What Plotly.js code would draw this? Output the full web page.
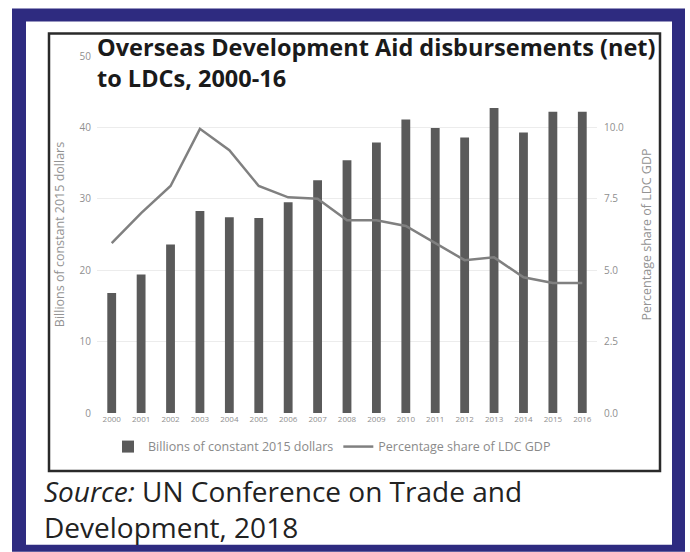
<!DOCTYPE html>
<html>
<head>
<meta charset="utf-8">
<script src="https://cdn.plot.ly/plotly-3.0.1.min.js"></script>
<style>html,body{margin:0;padding:0;background:#fff;}#chart{width:690px;height:552px;}</style>
</head>
<body>
<div id="chart"></div>
<script>
const years = ['2000','2001','2002','2003','2004','2005','2006','2007','2008','2009','2010','2011','2012','2013','2014','2015','2016'];
const oda_billions = [16.8, 19.4, 23.6, 28.3, 27.4, 27.3, 29.5, 32.6, 35.4, 37.9, 41.1, 39.9, 38.6, 42.7, 39.3, 42.2, 42.2];
const share_gdp = [5.95, 7.0, 7.95, 9.95, 9.2, 7.95, 7.55, 7.5, 6.75, 6.75, 6.55, 5.95, 5.35, 5.45, 4.75, 4.55, 4.55];
const leftTicks = [0, 10, 20, 30, 40, 50];
const rightTicks = [0, 2.5, 5, 7.5, 10];

const W = 690, H = 552;
const L = 97, R = 597, T = 55.5, B = 413;
const px = x => (x - L) / (R - L);
const py = y => (B - y) / (B - T);

const tickFont = {family: 'Open Sans, sans-serif', size: 10, color: '#8f8f8f'};
const axTitleFont = {family: 'Open Sans, sans-serif', size: 12.5, color: '#939393'};

const traces = [
  {type: 'bar', x: years, y: oda_billions, name: 'Billions of constant 2015 dollars',
   marker: {color: '#5a5a5a'}, yaxis: 'y'},
  {type: 'scatter', mode: 'lines', x: years, y: share_gdp, name: 'Percentage share of LDC GDP',
   line: {color: '#808080', width: 2.5}, yaxis: 'y2'}
];

const layout = {
  width: W, height: H,
  margin: {l: L, r: W - R, t: T, b: H - B, pad: 0},
  paper_bgcolor: '#ffffff', plot_bgcolor: 'rgba(0,0,0,0)',
  bargap: 0.7,
  showlegend: true,
  legend: {orientation: 'h', x: 0.47, xanchor: 'center', y: py(447), yanchor: 'middle',
           font: {family: 'Open Sans, sans-serif', size: 12.5, color: '#8a8a8a'}, bgcolor: 'rgba(0,0,0,0)',
           traceorder: 'normal', itemwidth: 30},
  title: {text: '<b>Overseas Development Aid disbursements (net)<br>to LDCs, 2000-16</b>',
          xref: 'container', yref: 'container', x: 97 / W, xanchor: 'left', y: 1 - 56 / H, yanchor: 'top',
          font: {family: 'Open Sans, sans-serif', size: 23.5, color: '#1a1a1a'}},
  xaxis: {type: 'category', showgrid: false, zeroline: false, showline: false, ticks: '',
          tickfont: {family: 'Open Sans, sans-serif', size: 8, color: '#8f8f8f'}, range: [-0.5, 16.5]},
  yaxis: {range: [0, 50], tickvals: leftTicks, showgrid: true, gridcolor: '#ececec', zeroline: false,
          showline: false, ticks: '', tickfont: tickFont, ticklabelstandoff: 5,
          title: {text: 'Billions of constant 2015 dollars', standoff: 12, font: axTitleFont}},
  yaxis2: {range: [0, 12.5], tickvals: rightTicks, tickformat: '.1f', overlaying: 'y', side: 'right',
           showgrid: false, zeroline: false, showline: false, ticks: '', tickfont: tickFont, ticklabelstandoff: 6,
           title: {text: 'Percentage share of LDC GDP', standoff: 19, font: axTitleFont}},
  shapes: [
    {type: 'rect', xref: 'paper', yref: 'paper', x0: px(12), x1: px(685), y0: py(552), y1: py(8),
     fillcolor: '#2e2b80', line: {width: 0}, layer: 'below'},
    {type: 'rect', xref: 'paper', yref: 'paper', x0: px(26), x1: px(672), y0: py(545), y1: py(21),
     fillcolor: '#ffffff', line: {width: 0}, layer: 'below'},
    {type: 'rect', xref: 'paper', yref: 'paper', x0: px(49), x1: px(660), y0: py(471), y1: py(33),
     fillcolor: 'rgba(0,0,0,0)', line: {width: 2.5, color: '#2a2a2a'}, layer: 'below'}
  ],
  annotations: [
    {xref: 'paper', yref: 'paper', x: px(42), y: py(491), xanchor: 'left', yanchor: 'middle', showarrow: false,
     text: '<i>Source:</i> UN Conference on Trade and',
     font: {family: 'Open Sans, sans-serif', size: 28, color: '#222'}},
    {xref: 'paper', yref: 'paper', x: px(42), y: py(527), xanchor: 'left', yanchor: 'middle', showarrow: false,
     text: 'Development, 2018',
     font: {family: 'Open Sans, sans-serif', size: 28, color: '#222'}}
  ]
};

Plotly.newPlot('chart', traces, layout, {displayModeBar: false, staticPlot: true});
</script>
</body>
</html>
